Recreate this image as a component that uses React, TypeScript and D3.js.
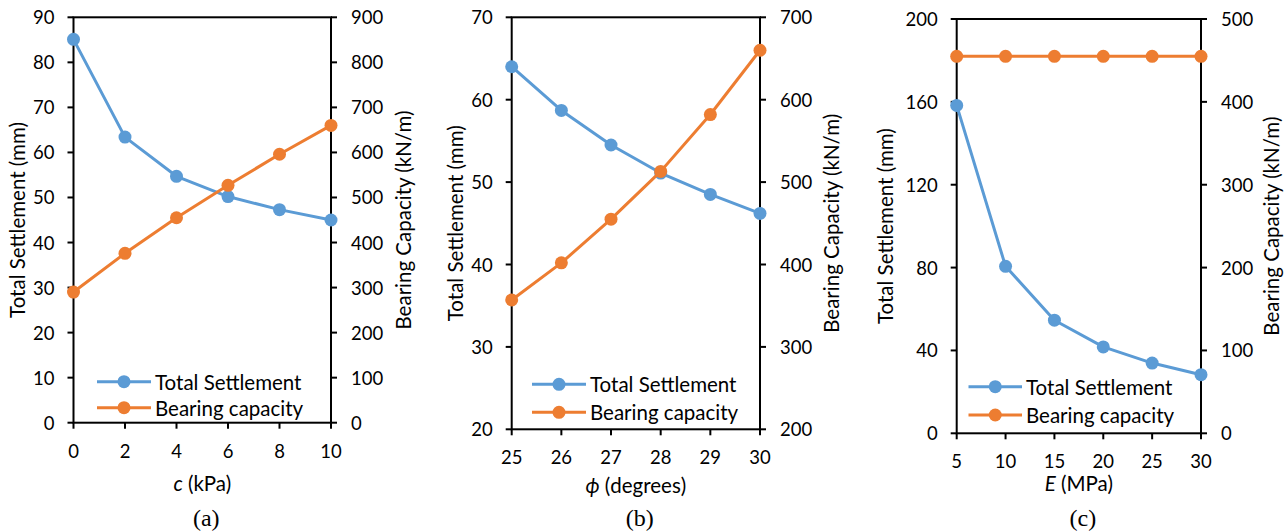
import React from "react";
import * as d3 from "d3";

const cValues = [0, 2, 4, 6, 8, 10];
const cSettlement = [85.1, 63.4, 54.7, 50.2, 47.3, 45.0];
const cBearing = [290, 376, 455, 527, 596, 660];

const phiValues = [25, 26, 27, 28, 29, 30];
const phiSettlement = [64.0, 58.7, 54.5, 51.1, 48.5, 46.2];
const phiBearing = [357, 402, 455, 513, 582, 660];

const eValues = [5, 10, 15, 20, 25, 30];
const eSettlement = [158.3, 80.6, 54.6, 41.7, 33.9, 28.3];
const eBearing = [455, 455, 455, 455, 455, 455];

const leftTicksA = [0, 10, 20, 30, 40, 50, 60, 70, 80, 90];
const rightTicksA = [0, 100, 200, 300, 400, 500, 600, 700, 800, 900];
const leftTicksB = [20, 30, 40, 50, 60, 70];
const rightTicksB = [200, 300, 400, 500, 600, 700];
const leftTicksC = [0, 40, 80, 120, 160, 200];
const rightTicksC = [0, 100, 200, 300, 400, 500];

const seriesNames = ["Total Settlement", "Bearing capacity"];
const BLUE = "#5B9BD5";
const ORANGE = "#ED7D31";
const FONT = "Lato, 'Open Sans', sans-serif";

type PanelDef = {
  x: number[];
  s: number[];
  b: number[];
  lt: number[];
  rt: number[];
  box: [number, number, number, number]; // left, right, top, bottom
  xTitleY: number;
  xTitle: React.ReactNode;
  tag: string;
  legend: { x0: number; x1: number; y: number; dy: number };
  leftTitleX: number;
  rightTitleX: number;
};

const panels: PanelDef[] = [
  {
    x: cValues, s: cSettlement, b: cBearing, lt: leftTicksA, rt: rightTicksA,
    box: [73.5, 331, 17.3, 422.7], xTitleY: 483,
    xTitle: (<><tspan fontStyle="italic">c</tspan> (kPa)</>), tag: "(a)",
    legend: { x0: 97, x1: 151, y: 381.7, dy: 26 }, leftTitleX: 17, rightTitleX: 403,
  },
  {
    x: phiValues, s: phiSettlement, b: phiBearing, lt: leftTicksB, rt: rightTicksB,
    box: [511.7, 760, 17.3, 429.3], xTitleY: 485,
    xTitle: (<><tspan fontStyle="italic">ϕ</tspan> (degrees)</>), tag: "(b)",
    legend: { x0: 532, x1: 586, y: 384.3, dy: 28 }, leftTitleX: 455, rightTitleX: 831,
  },
  {
    x: eValues, s: eSettlement, b: eBearing, lt: leftTicksC, rt: rightTicksC,
    box: [956.7, 1201, 19, 433.3], xTitleY: 483,
    xTitle: (<><tspan fontStyle="italic">E</tspan> (MPa)</>), tag: "(c)",
    legend: { x0: 968.5, x1: 1022, y: 386.7, dy: 28.3 }, leftTitleX: 885, rightTitleX: 1271,
  },
];

function Panel({ p }: { p: PanelDef }) {
  const [L, R, T, B] = p.box;
  const xs = d3.scaleLinear().domain([p.x[0], p.x[p.x.length - 1]]).range([L, R]);
  const yl = d3.scaleLinear().domain([p.lt[0], p.lt[p.lt.length - 1]]).range([B, T]);
  const yr = d3.scaleLinear().domain([p.rt[0], p.rt[p.rt.length - 1]]).range([B, T]);
  const sPts: [number, number][] = p.x.map((v, i) => [xs(v), yl(p.s[i])]);
  const bPts: [number, number][] = p.x.map((v, i) => [xs(v), yr(p.b[i])]);
  const line = d3.line();
  const r = 6.5;
  const cy = (T + B) / 2;
  const cx = (L + R) / 2;
  const tickFs = 18.5;
  const titleFs = 20.5;
  return (
    <g fontFamily={FONT} fill="#000">
      <rect x={L} y={T} width={R - L} height={B - T} fill="none" stroke="#000" strokeWidth={2} />
      {p.lt.map((t) => (
        <g key={"l" + t}>
          <line x1={L - 6} x2={L} y1={yl(t)} y2={yl(t)} stroke="#000" strokeWidth={2} />
          <text x={L - 19} y={yl(t)} textAnchor="end" dominantBaseline="central" fontSize={tickFs}>{t}</text>
        </g>
      ))}
      {p.rt.map((t) => (
        <g key={"r" + t}>
          <line x1={R} x2={R + 6} y1={yr(t)} y2={yr(t)} stroke="#000" strokeWidth={2} />
          <text x={R + 20} y={yr(t)} textAnchor="start" dominantBaseline="central" fontSize={tickFs}>{t}</text>
        </g>
      ))}
      {p.x.map((t) => (
        <g key={"x" + t}>
          <line x1={xs(t)} x2={xs(t)} y1={B} y2={B + 6} stroke="#000" strokeWidth={2} />
          <text x={xs(t)} y={B + 28} textAnchor="middle" dominantBaseline="central" fontSize={tickFs}>{t}</text>
        </g>
      ))}
      <text x={cx} y={p.xTitleY} textAnchor="middle" dominantBaseline="central" fontSize={titleFs}>{p.xTitle}</text>
      <text x={cx + 4} y={518} textAnchor="middle" dominantBaseline="central" fontSize={24} fontFamily="'Liberation Serif', 'Times New Roman', serif">{p.tag}</text>
      <text transform={`translate(${p.leftTitleX},${cy}) rotate(-90)`} textAnchor="middle" dominantBaseline="central" fontSize={titleFs}>Total Settlement (mm)</text>
      <text transform={`translate(${p.rightTitleX},${cy}) rotate(-90)`} textAnchor="middle" dominantBaseline="central" fontSize={titleFs}>Bearing Capacity (kN/m)</text>

      <path d={line(sPts) || ""} fill="none" stroke={BLUE} strokeWidth={3} strokeLinejoin="round" />
      {sPts.map((pt, i) => <circle key={"s" + i} cx={pt[0]} cy={pt[1]} r={r} fill={BLUE} />)}
      <path d={line(bPts) || ""} fill="none" stroke={ORANGE} strokeWidth={3} strokeLinejoin="round" />
      {bPts.map((pt, i) => <circle key={"b" + i} cx={pt[0]} cy={pt[1]} r={r} fill={ORANGE} />)}

      {seriesNames.map((name, i) => {
        const y = p.legend.y + i * p.legend.dy;
        const col = i === 0 ? BLUE : ORANGE;
        const mx = (p.legend.x0 + p.legend.x1) / 2;
        return (
          <g key={name}>
            <line x1={p.legend.x0} x2={p.legend.x1} y1={y} y2={y} stroke={col} strokeWidth={3} />
            <circle cx={mx} cy={y} r={r} fill={col} />
            <text x={p.legend.x1 + 4} y={y} dominantBaseline="central" fontSize={titleFs}>{name}</text>
          </g>
        );
      })}
    </g>
  );
}

export default function App() {
  return (
    <svg width={1288} height={532} style={{ position: "absolute", left: 0, top: 0, background: "#fff" }}>
      <rect width={1288} height={532} fill="#fff" />
      {panels.map((p, i) => <Panel key={i} p={p} />)}
    </svg>
  );
}
